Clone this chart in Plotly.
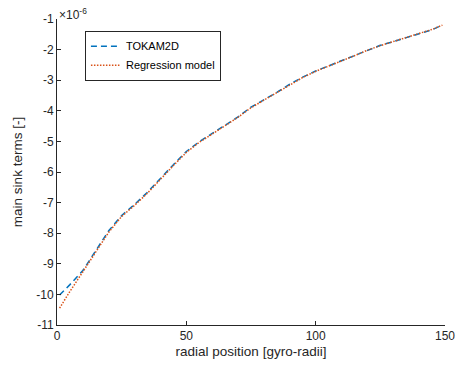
import plotly.graph_objects as go

# radial position [gyro-radii]
x_pos = [1, 5, 10, 15, 20, 25, 30, 35, 40, 45, 50, 55, 60, 65, 70, 75, 80, 85, 90, 95,
         100, 105, 110, 115, 120, 125, 130, 135, 140, 145, 149]
# values in units of 1e-6
tokam2d = [-10.02, -9.68, -9.22, -8.55, -7.92, -7.42, -7.06, -6.66, -6.2, -5.76, -5.33,
           -5.01, -4.74, -4.48, -4.2, -3.88, -3.64, -3.4, -3.13, -2.9, -2.7, -2.53,
           -2.37, -2.19, -2.01, -1.86, -1.74, -1.6, -1.48, -1.35, -1.2]
regression = [-10.45, -9.9, -9.26, -8.6, -7.97, -7.45, -7.09, -6.69, -6.23, -5.79, -5.36,
              -5.03, -4.76, -4.49, -4.21, -3.9, -3.65, -3.4, -3.14, -2.91, -2.71, -2.53,
              -2.37, -2.2, -2.02, -1.87, -1.74, -1.6, -1.48, -1.34, -1.2]

x_ticks = [0, 50, 100, 150]
y_ticks = [-11, -10, -9, -8, -7, -6, -5, -4, -3, -2, -1]
y_ticktext = [str(v) for v in y_ticks]

font_family = "Liberation Sans, Arial, Helvetica, sans-serif"
axcol = "#262626"

fig = go.Figure()
fig.add_trace(go.Scatter(x=x_pos, y=tokam2d, mode="lines", name="TOKAM2D",
                         line=dict(color="#0072BD", width=1.5, dash="6px,4px")))
fig.add_trace(go.Scatter(x=x_pos, y=regression, mode="lines", name="Regression model",
                         line=dict(color="#D95319", width=1.5, dash="1.5px,1.5px")))

fig.update_layout(
    width=467, height=369,
    margin=dict(l=57, r=20, t=19, b=44),
    paper_bgcolor="white", plot_bgcolor="white",
    font=dict(family=font_family, size=11.5, color=axcol),
    showlegend=True,
    legend=dict(x=0.072, y=0.962, xanchor="left", yanchor="top",
                bgcolor="white", bordercolor=axcol, borderwidth=1,
                font=dict(size=11, color="black"),
                tracegroupgap=0, itemwidth=30),
)
fig.update_xaxes(range=[0, 150], tickvals=x_ticks, ticks="inside", ticklen=4,
                 tickcolor=axcol, showline=True, linecolor=axcol, linewidth=1,
                 showgrid=False, zeroline=False, mirror=False,
                 tickfont=dict(size=12),
                 title=dict(text="radial position [gyro-radii]", font=dict(size=13.5), standoff=4))
fig.update_yaxes(range=[-11, -1], tickvals=y_ticks, ticktext=y_ticktext, ticks="inside",
                 ticklen=4, tickcolor=axcol, showline=True, linecolor=axcol, linewidth=1,
                 showgrid=False, zeroline=False, mirror=False,
                 tickfont=dict(size=12),
                 title=dict(text="main sink terms [-]", font=dict(size=13.5), standoff=10))
fig.add_annotation(text="×10<sup>-6</sup>", xref="paper", yref="paper", x=0.0, y=1.0,
                   xanchor="left", yanchor="bottom", showarrow=False,
                   font=dict(size=12, color=axcol), yshift=-5)

fig.write_html("out.html")
